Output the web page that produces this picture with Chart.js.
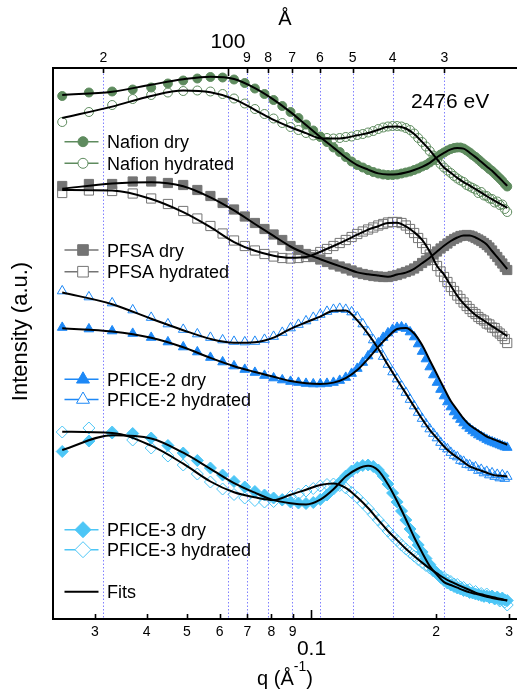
<!DOCTYPE html>
<html>
<head>
<meta charset="utf-8">
<script src="https://cdn.jsdelivr.net/npm/chart.js@4"></script>
<style>
html, body { margin: 0; padding: 0; background: #ffffff; }
canvas { display: block; }
</style>
</head>
<body>
<canvas id="saxs" width="517" height="691"></canvas>
<script>
// Scattering vector q (1/Å) of the measured points
const q = [0.025, 0.029, 0.033, 0.037, 0.041, 0.045, 0.049, 0.053, 0.057, 0.061,
  0.065, 0.069, 0.073, 0.077, 0.081, 0.085, 0.089, 0.093, 0.097, 0.101,
  0.105, 0.109, 0.113, 0.117, 0.121, 0.125, 0.129, 0.133, 0.137, 0.141,
  0.145, 0.149, 0.153, 0.157, 0.161, 0.165, 0.169, 0.173, 0.177, 0.181,
  0.185, 0.189, 0.193, 0.197, 0.201, 0.205, 0.209, 0.213, 0.217, 0.221,
  0.225, 0.229, 0.233, 0.237, 0.241, 0.245, 0.249, 0.253, 0.257, 0.261,
  0.265, 0.269, 0.273, 0.277, 0.281, 0.285, 0.289, 0.293, 0.297];

// q values at which the model fits are evaluated
const qFit = [0.025, 0.033, 0.041, 0.049, 0.057, 0.065, 0.073, 0.081, 0.089, 0.097,
  0.105, 0.113, 0.121, 0.129, 0.137, 0.145, 0.153, 0.161, 0.169, 0.177,
  0.185, 0.193, 0.201, 0.209, 0.217, 0.225, 0.233, 0.241, 0.249, 0.257,
  0.265, 0.273, 0.281, 0.289, 0.297];

// Intensities (a.u., vertically offset per membrane)
const nafionDry = [523, 526.5, 527.5, 529.5, 531.5, 535.5, 538.5, 540.5, 542, 541.5,
  539.5, 536, 530.5, 525, 519, 513, 507, 501, 494.5, 488.5,
  482.5, 477, 471.5, 467, 462, 457.5, 454, 451.5, 449, 447,
  445.5, 444.5, 444, 444, 444.5, 445.5, 446.5, 447.5, 449, 450.5,
  452.5, 454, 456.5, 459, 462, 464.5, 466.5, 468.5, 470, 471,
  471.5, 471.5, 470.5, 468.5, 466.5, 464, 462, 459.5, 457, 454.5,
  452.5, 450, 448, 445.5, 443, 440.5, 438, 435, 432.5];
const nafionHyd = [497, 507, 514, 520, 524, 526.5, 528, 528.5, 527.5, 525,
  520.5, 515.5, 510, 505, 500.5, 496, 492, 489, 486, 483.5,
  482, 481, 480.5, 481, 482, 482.5, 484, 485, 486.5, 488,
  490, 491.5, 492.5, 493, 493, 492.5, 491, 489, 485.5, 481,
  477, 472.5, 468, 463.5, 459, 455, 451.5, 448.5, 446, 443,
  440.5, 438.5, 437, 434, 432.5, 431, 429.5, 426, 427, 423.5,
  423, 420.5, 420, 416.5, 417.5, 414, 414.5, 410, 407];
const pfsaDry = [433, 435, 435, 437.5, 437.5, 436, 434, 429, 423, 416,
  409.5, 402.5, 396, 390, 384.5, 379, 373, 369, 365, 362,
  359.5, 357, 354.5, 352.5, 350.5, 348.5, 346.5, 345, 344, 343,
  342.5, 342, 342, 343, 344, 345.5, 347, 348.5, 350.5, 353,
  356, 358.5, 361.5, 364.5, 367.5, 370.5, 373, 375.5, 378, 380,
  381.5, 383, 383.5, 384, 383.5, 382.5, 381, 379.5, 378, 376,
  374, 371.5, 368.5, 365, 362, 358.5, 355.5, 352, 349];
const pfsaHyd = [426, 428.5, 428, 425.5, 420.5, 415, 408, 400.5, 393, 385.5,
  378.5, 373, 368.5, 365, 362.5, 361, 360.5, 361, 362, 364,
  367, 370, 373, 376, 379, 382, 385, 387.5, 389.5, 391.5,
  393.5, 395, 396.5, 397, 397, 396, 393.5, 390, 386, 381,
  376, 370, 364.5, 359, 353, 347.5, 342, 337, 332, 328,
  323.5, 320, 316.5, 313, 310, 307, 305, 302, 300, 298.5,
  295.5, 294.5, 291.5, 291, 287.5, 285.5, 283, 280, 276];
const pfice2Dry = [291.5, 290, 288, 285.5, 281.5, 277, 272, 267, 261.5, 257,
  253, 249.5, 246.5, 243.5, 241, 239, 237.5, 236.5, 235.5, 235,
  235, 235.5, 236.5, 238.5, 241.5, 245.5, 250.5, 256.5, 263, 269.5,
  276, 281.5, 286, 289.5, 291.5, 292, 290.5, 287, 282, 275,
  267.5, 260, 252, 244, 236.5, 229.5, 223, 217, 212, 207,
  203, 199.5, 196, 193, 190.5, 188, 186, 184, 182.5, 181,
  179.5, 178, 177, 176, 175, 174, 173, 172, 171.5];
const pfice2Hyd = [328, 322, 316, 309, 301.5, 295, 289.5, 285, 281.5, 279,
  277.5, 277, 277.5, 279.5, 282.5, 286.5, 291, 294.5, 298, 301.5,
  304.5, 307.5, 309.5, 310.5, 309.5, 307, 302, 295, 287, 279,
  271, 262.5, 254.5, 247, 240, 233, 226.5, 219.5, 213, 206.5,
  200.5, 195, 190, 185.5, 181, 176.5, 172.5, 170, 166.5, 163.5,
  162, 158.5, 157.5, 154.5, 154, 151.5, 152, 148.5, 149.5, 146,
  147.5, 144, 146, 142.5, 144.5, 141, 144, 140.5, 142.5];
const pfice3Dry = [167.5, 178, 186, 185.5, 181, 173.5, 166, 158.5, 151, 144,
  137.5, 132, 127.5, 124, 121, 119, 117, 116, 115.5, 116.5,
  119.5, 124, 130, 136.5, 143, 148, 151.5, 153.5, 154, 152.5,
  149, 143, 135, 126, 117, 108, 99, 90, 82, 74,
  67, 60.5, 54.5, 49.5, 45, 41.5, 38.5, 36, 34, 32.5,
  31, 30, 28.5, 28, 26.5, 26, 25, 24.5, 23.5, 23,
  23, 21.5, 22, 20.5, 21.5, 19.5, 20.5, 19, 18.5];
const pfice3Hyd = [187, 191, 187, 179, 171, 163, 154, 145, 137, 130,
  124.5, 121, 118.5, 117, 117.5, 119.5, 122.5, 125, 128, 130.5,
  133, 134.5, 135, 133.5, 131, 126.5, 121.5, 116, 110.5, 104.5,
  99, 93.5, 88, 83, 78.5, 74, 70, 66.5, 63, 59.5,
  56.5, 53.5, 51, 48, 46, 43, 41.5, 39, 37.5, 35,
  34.5, 32, 31.5, 29, 29.5, 26.5, 27.5, 24.5, 25.5, 22.5,
  25, 21.5, 23, 20, 22, 18, 21, 17, 14];

// Model fits on qFit
const nafionDryFit = [524, 527.3, 534.3, 539.7, 542.3, 540, 530.9, 519.4, 506.9, 494,
  482.1, 471.4, 461.5, 453.9, 449.4, 445.6, 444.5, 444.8, 446.5, 449,
  452.1, 456.1, 461.7, 466.1, 469.6, 471, 470.4, 466.3, 461.9, 457.2,
  452.6, 448.2, 443.1, 438.1, 433.1];
const nafionHydFit = [501, 512.4, 523.1, 528.4, 526.7, 519.9, 509.2, 499.2, 491.8, 485.9,
  480.7, 480.4, 481.3, 483.7, 486, 489.2, 492.2, 492.5, 490.5, 484.9,
  477.1, 468.9, 459.8, 451.5, 446.2, 441.1, 436.9, 433.4, 429.9, 426.4,
  422.9, 419.6, 416.7, 413.9, 411.1];
const pfsaDryFit = [430.3, 435.4, 436.8, 432.8, 421.7, 408.6, 395, 383.1, 372.5, 365.2,
  359.8, 355, 350.7, 346.6, 344.7, 343.4, 342.3, 344.5, 346.4, 350.2,
  355.7, 361.3, 367.4, 373.2, 378, 381.5, 383.5, 383.5, 381.5, 378.5,
  374.5, 368, 361.9, 355.9, 350];
const pfsaHydFit = [429, 428.4, 420, 406.8, 391.8, 376.9, 368.2, 363.3, 361.2, 362,
  367.2, 373, 378.7, 384.3, 389.4, 392.8, 396, 396.2, 392.6, 386.8,
  379.1, 367.4, 353, 344.4, 333.2, 323.2, 315.3, 309.2, 304, 300.2,
  296.5, 292.9, 289.5, 286.2, 282.9];
const pfice2DryFit = [290.7, 287.6, 281.2, 271.7, 261.1, 252.8, 247, 242.2, 238, 235.7,
  235, 236.4, 240.9, 248.9, 260.2, 272.1, 282.2, 290, 291, 285.5,
  273.9, 258.8, 244.5, 230.7, 217.9, 209, 200.4, 194, 190, 186.2,
  182.5, 180.3, 178.3, 176.3, 174.3];
const pfice2HydFit = [326.5, 314.8, 300.2, 288.8, 280.1, 276.3, 276.8, 281.4, 290.2, 296.7,
  302.4, 308.2, 308.4, 298.6, 285.1, 270.2, 254, 239.3, 225.6, 212.4,
  200, 189.2, 180.6, 172.5, 166.2, 161.5, 156.9, 152.6, 150.3, 148.3,
  146.3, 144.4, 143.5, 143, 142.5];
const pfice3DryFit = [169, 183.7, 180.5, 166.3, 150.2, 135.9, 126.3, 118.9, 115.8, 114.6,
  119.4, 129.8, 142.5, 150, 153.2, 148.5, 134.7, 117.7, 99.8, 81.7,
  66.5, 52.9, 44.2, 36.9, 34, 31.3, 28.7, 26.6, 25.1, 23.7,
  22.3, 21, 20, 19.2, 18.4];
const pfice3HydFit = [187.3, 186.1, 173.3, 155.3, 137.5, 126.7, 121.7, 119, 124.2, 129.3,
  134, 135.5, 131.1, 121.7, 111, 99.1, 88, 78.9, 70.2, 63,
  56.4, 50.5, 45.6, 41, 37.3, 34.4, 31.6, 29, 26.4, 24.7,
  23.4, 22.1, 20.9, 19.7, 18.5];

// Axis ticks: q on the bottom, real-space distance d = 2π/q on top
const qTicks = [0.03, 0.04, 0.05, 0.06, 0.07, 0.08, 0.09, 0.1, 0.2, 0.3];
const qTickLabels = ['3', '4', '5', '6', '7', '8', '9', '0.1', '2', '3'];
const dTicks = [200, 100, 90, 80, 70, 60, 50, 40, 30];
const dTickLabels = ['2', '100', '9', '8', '7', '6', '5', '4', '3'];

const FONT = "'Liberation Sans', Arial, Helvetica, sans-serif";
const GREEN = '#5e8b5e';
const GRAY = '#747474';
const BLUE = '#1d88f6';
const CYAN = '#4dc6f6';
const CLEAR = 'rgba(0,0,0,0)';

const pairs = (xs, ys) => xs.map((x, i) => ({ x: x, y: ys[i] }));

function measured(label, ys, color, style, filled, radius) {
  return {
    label: label,
    data: pairs(q, ys),
    showLine: false,
    pointStyle: style,
    pointRadius: radius,
    pointBorderWidth: 1,
    pointBorderColor: color,
    pointBackgroundColor: filled ? color : CLEAR,
    borderColor: color,
    backgroundColor: filled ? color : CLEAR,
    order: 1
  };
}

function fit(ys) {
  return {
    label: 'Fits',
    data: pairs(qFit, ys),
    showLine: true,
    borderColor: '#000000',
    borderWidth: 2,
    pointRadius: 0,
    cubicInterpolationMode: 'monotone',
    fill: false,
    order: 0
  };
}

const series = [
  measured('Nafion dry', nafionDry, GREEN, 'circle', true, 4.5),
  measured('Nafion hydrated', nafionHyd, GREEN, 'circle', false, 4.5),
  measured('PFSA dry', pfsaDry, GRAY, 'rect', true, 6.5),
  measured('PFSA hydrated', pfsaHyd, GRAY, 'rect', false, 6.5),
  measured('PFICE-2 dry', pfice2Dry, BLUE, 'triangle', true, 5.6),
  measured('PFICE-2 hydrated', pfice2Hyd, BLUE, 'triangle', false, 5.6),
  measured('PFICE-3 dry', pfice3Dry, CYAN, 'rectRot', true, 6),
  measured('PFICE-3 hydrated', pfice3Hyd, CYAN, 'rectRot', false, 6)
];
const fits = [nafionDryFit, nafionHydFit, pfsaDryFit, pfsaHydFit,
  pfice2DryFit, pfice2HydFit, pfice3DryFit, pfice3HydFit].map(fit);

// Legend rows: series index (or -1 for the fit line) and vertical position
const legendRows = [
  { idx: 0, y: 141.7, r: 5 }, { idx: 1, y: 163.3, r: 5 },
  { idx: 2, y: 250, r: 7.5 }, { idx: 3, y: 271.7, r: 7.5 },
  { idx: 4, y: 379.3, r: 7.5 }, { idx: 5, y: 399.5, r: 7.5 },
  { idx: 6, y: 529.7, r: 8 }, { idx: 7, y: 549.7, r: 8 },
  { idx: -1, y: 591.7 }
];

const isDecade = v => Math.abs(Math.log10(v) - Math.round(Math.log10(v))) < 1e-9;

const frame = {
  id: 'frame',
  beforeDatasetsDraw(chart) {
    const { ctx, chartArea: a } = chart;
    const xt = chart.scales.xTop;
    ctx.save();
    ctx.strokeStyle = '#8080ff';
    ctx.lineWidth = 1;
    ctx.setLineDash([1.5, 2]);
    dTicks.forEach(d => {
      const x = Math.round(xt.getPixelForValue(2 * Math.PI / d)) + 0.5;
      ctx.beginPath();
      ctx.moveTo(x, a.top + 2);
      ctx.lineTo(x, a.bottom - 1);
      ctx.stroke();
    });
    ctx.restore();
  },
  afterDraw(chart) {
    const { ctx, chartArea: a } = chart;
    const xb = chart.scales.x;
    const xt = chart.scales.xTop;
    ctx.save();

    // frame lines
    ctx.strokeStyle = '#000000';
    ctx.lineWidth = 2;
    ctx.beginPath();
    ctx.moveTo(a.right, a.top); ctx.lineTo(a.left, a.top);
    ctx.lineTo(a.left, a.bottom); ctx.lineTo(a.right, a.bottom);
    ctx.stroke();

    // inward ticks
    ctx.lineWidth = 1.6;
    qTicks.forEach(v => {
      const x = Math.round(xb.getPixelForValue(v)) + 0.5;
      const len = isDecade(v) ? 9 : 5;
      ctx.beginPath(); ctx.moveTo(x, a.bottom); ctx.lineTo(x, a.bottom - len); ctx.stroke();
    });
    dTicks.forEach(d => {
      const x = Math.round(xt.getPixelForValue(2 * Math.PI / d)) + 0.5;
      const len = isDecade(d) ? 8 : 5;
      ctx.beginPath(); ctx.moveTo(x, a.top); ctx.lineTo(x, a.top + len); ctx.stroke();
    });

    // tick labels
    ctx.fillStyle = '#000000';
    ctx.textAlign = 'center';
    ctx.textBaseline = 'alphabetic';
    qTicks.forEach((v, i) => {
      const x = xb.getPixelForValue(v);
      if (isDecade(v)) { ctx.font = '21px ' + FONT; ctx.fillText(qTickLabels[i], x, a.bottom + 36); }
      else { ctx.font = '14px ' + FONT; ctx.fillText(qTickLabels[i], x, a.bottom + 17); }
    });
    dTicks.forEach((d, i) => {
      const x = xt.getPixelForValue(2 * Math.PI / d);
      if (isDecade(d)) { ctx.font = '21px ' + FONT; ctx.fillText(dTickLabels[i], x, a.top - 20); }
      else { ctx.font = '14px ' + FONT; ctx.fillText(dTickLabels[i], x, a.top - 6); }
    });

    // axis titles
    const cx = (a.left + a.right) / 2;
    ctx.font = '20px ' + FONT;
    ctx.fillText('Å', cx, 25);

    const t1 = 'q (Å', t2 = '-1', t3 = ')';
    ctx.font = '20px ' + FONT;
    const w1 = ctx.measureText(t1).width, w3 = ctx.measureText(t3).width;
    ctx.font = '14px ' + FONT;
    const w2 = ctx.measureText(t2).width;
    let x0 = cx - (w1 + w2 + w3) / 2;
    ctx.textAlign = 'left';
    ctx.font = '20px ' + FONT; ctx.fillText(t1, x0, 685);
    ctx.font = '14px ' + FONT; ctx.fillText(t2, x0 + w1, 671);
    ctx.font = '20px ' + FONT; ctx.fillText(t3, x0 + w1 + w2, 685);

    ctx.save();
    ctx.translate(27, (a.top + a.bottom) / 2 - 12);
    ctx.rotate(-Math.PI / 2);
    ctx.textAlign = 'center';
    ctx.font = '22px ' + FONT;
    ctx.fillText('Intensity (a.u.)', 0, 0);
    ctx.restore();

    // photon energy
    ctx.textAlign = 'left';
    ctx.font = '21px ' + FONT;
    ctx.fillText('2476 eV', 411, 108);

    // legend
    const lx0 = 64.5, lx1 = 98.5, mx = 83, tx = 107;
    legendRows.forEach(row => {
      const ds = row.idx >= 0 ? series[row.idx] : fits[0];
      const color = row.idx >= 0 ? ds.pointBorderColor : '#000000';
      ctx.strokeStyle = color;
      ctx.lineWidth = row.idx >= 0 ? 1.5 : 2;
      ctx.setLineDash([]);
      ctx.beginPath(); ctx.moveTo(lx0, row.y); ctx.lineTo(lx1, row.y); ctx.stroke();
      if (row.idx >= 0) {
        ctx.fillStyle = ds.pointBackgroundColor === CLEAR ? '#ffffff' : color;
        ctx.strokeStyle = color;
        ctx.lineWidth = 1;
        Chart.helpers.drawPoint(ctx, { pointStyle: ds.pointStyle, radius: row.r, rotation: 0, borderWidth: 1 }, mx, row.y);
      }
      ctx.fillStyle = '#000000';
      ctx.font = '18px ' + FONT;
      ctx.textAlign = 'left';
      ctx.fillText(ds.label, tx, row.y + 6.5);
    });

    ctx.restore();
  }
};

const qMin = 0.02375, qMax = 0.3136;

new Chart(document.getElementById('saxs'), {
  type: 'scatter',
  data: { datasets: fits.concat(series) },
  options: {
    responsive: false,
    animation: false,
    devicePixelRatio: 1,
    events: [],
    layout: { autoPadding: false, padding: { left: 53, top: 68, right: 0, bottom: 72 } },
    plugins: { legend: { display: false }, tooltip: { enabled: false } },
    scales: {
      x: { type: 'logarithmic', min: qMin, max: qMax, display: false },
      xTop: { type: 'logarithmic', position: 'top', min: qMin, max: qMax, display: false },
      y: { type: 'linear', min: 0, max: 551, display: false }
    }
  },
  plugins: [frame]
});
</script>
</body>
</html>
